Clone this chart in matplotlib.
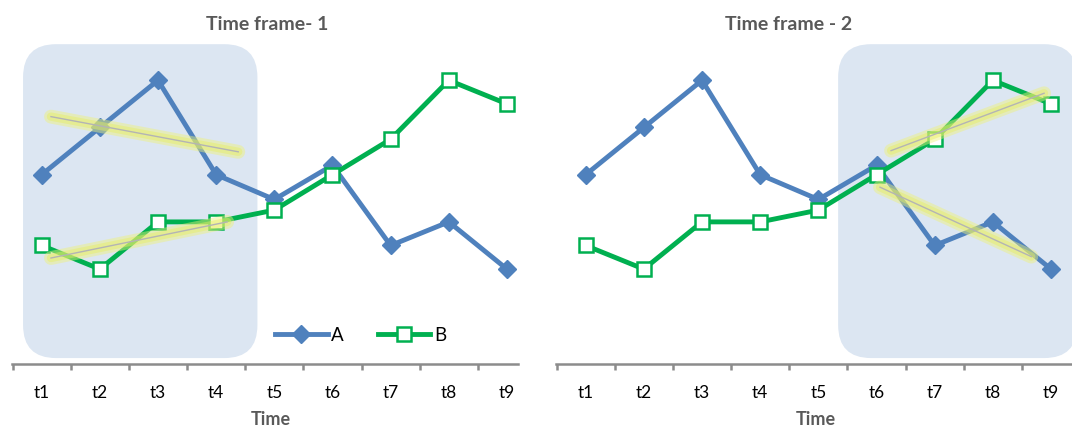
import matplotlib
matplotlib.use("Agg")
import matplotlib.pyplot as plt
from matplotlib.patches import FancyBboxPatch
from matplotlib.lines import Line2D
import numpy as np

plt.rcParams['font.family'] = ['Lato', 'DejaVu Sans']

# data
periods = ['t1', 't2', 't3', 't4', 't5', 't6', 't7', 't8', 't9']
series_a = [8, 10, 12, 8, 6.95, 8.4, 5, 6, 4]
series_b = [5, 4, 6, 6, 6.5, 8, 9.5, 12, 11]

# hand-drawn trend strokes: (x0, x1), (y0, y1)
trend1_a = [(1.16, 4.38), (10.46, 8.97)]
trend1_b = [(1.16, 4.19), (4.47, 6.0)]
trend2_a = [(6.06, 8.66), (7.47, 4.53)]
trend2_b = [(6.25, 8.88), (9.02, 11.45)]

# highlighted windows (x range in category units)
window1 = (0.68, 4.71)
window2 = (5.34, 9.45)

titles = ['Time frame- 1', 'Time frame - 2']

BLUE = '#4f81bd'
GREEN = '#00b050'
SHADE = '#dce6f2'
GRAY = '#595959'

W, H = 1072, 427
fig = plt.figure(figsize=(W / 100, H / 100), dpi=100)

y_top = 13.58
bottom = (H - 364.5) / H
height = (364.5 - 44) / H

ax1 = fig.add_axes([12 / W, bottom, 506 / W, height])
ax2 = fig.add_axes([556 / W, bottom, 516 / W, height])

x = np.arange(1, len(periods) + 1)


def draw_panel(ax, xlim, window, trends):
    for s in ['top', 'left', 'right']:
        ax.spines[s].set_visible(False)
    ax.spines['bottom'].set_color('#8c8c8c')
    ax.spines['bottom'].set_linewidth(1.8)
    ax.set_yticks([])
    ax.set_xticks(x)
    ax.set_xticklabels(periods, fontsize=12.5, color='black')
    ax.tick_params(axis='x', which='major', length=0, pad=15)
    ax.set_xticks(np.arange(0.5, 9.0, 1.0), minor=True)
    ax.tick_params(axis='x', which='minor', length=4, width=1.8, color='#8c8c8c', direction='out')
    ax.patch.set_alpha(0)

    # limits after ticks, so set_xticks cannot widen them
    ax.set_xlim(*xlim)
    ax.set_ylim(0, y_top)

    # rounded highlight box
    px_x = ax.get_position().width * W / (xlim[1] - xlim[0])
    px_y = ax.get_position().height * H / y_top
    r = 33 / px_x
    box = FancyBboxPatch((window[0], 0.23), window[1] - window[0], y_top - 0.23 - 0.05,
                         boxstyle=f"round,pad=0,rounding_size={r}",
                         mutation_aspect=px_x / px_y,
                         facecolor=SHADE, edgecolor='none', zorder=0)
    ax.add_patch(box)

    ax.plot(x, series_a, color=BLUE, lw=3.5, marker='D', markersize=9,
            markerfacecolor=BLUE, markeredgecolor=BLUE, zorder=3)
    ax.plot(x, series_b, color=GREEN, lw=3.5, marker='s', markersize=9.5,
            markerfacecolor='white', markeredgecolor=GREEN, markeredgewidth=1.8, zorder=4)

    for tx, ty in trends:
        ax.plot(tx, ty, color='#eef27a', lw=10, alpha=0.45, solid_capstyle='round', zorder=5)
        ax.plot(tx, ty, color='#e8ee60', lw=6, alpha=0.45, solid_capstyle='round', zorder=5)
        ax.plot(tx, ty, color='#b4b4b4', lw=1, zorder=6)

    ax.set_xlim(*xlim)
    ax.set_ylim(0, y_top)


draw_panel(ax1, (0.49, 9.19), window1, [trend1_a, trend1_b])
draw_panel(ax2, (0.49, 9.36), window2, [trend2_a, trend2_b])

fig.text(267 / W, 1 - 25 / H, titles[0], ha='center', va='center',
         fontsize=14, fontweight='bold', color=GRAY)
fig.text(789 / W, 1 - 25 / H, titles[1], ha='center', va='center',
         fontsize=14, fontweight='bold', color=GRAY)
fig.text(271 / W, 1 - 420 / H, 'Time', ha='center', va='center',
         fontsize=13, fontweight='bold', color=GRAY)
fig.text(816 / W, 1 - 420 / H, 'Time', ha='center', va='center',
         fontsize=13, fontweight='bold', color=GRAY)

handles = [
    Line2D([], [], color=BLUE, lw=3.5, marker='D', markersize=9,
           markerfacecolor=BLUE, markeredgecolor=BLUE),
    Line2D([], [], color=GREEN, lw=3.5, marker='s', markersize=9.5,
           markerfacecolor='white', markeredgecolor=GREEN, markeredgewidth=1.8),
]
ax1.legend(handles, ['A', 'B'], ncol=2, frameon=False, fontsize=13.5,
           handlelength=2.8, handletextpad=0.2, columnspacing=1.8,
           loc='center left', bbox_to_anchor=(275 / W, 1 - 336 / H),
           bbox_transform=fig.transFigure, borderaxespad=0, borderpad=0)

fig.savefig('out.png', dpi=100)
